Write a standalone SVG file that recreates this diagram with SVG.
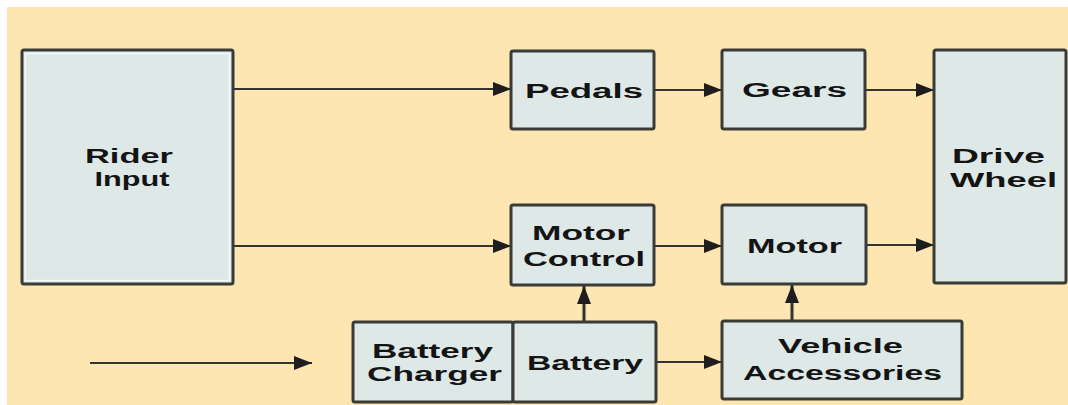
<svg xmlns="http://www.w3.org/2000/svg" width="1068" height="405" viewBox="0 0 1068 405">
<style>
.bg{fill:#fde6b1}
.box{fill:#dde8e7;stroke:#3a3a37;stroke-width:3}
.hl{fill:none;stroke:#f4f8f8;stroke-width:1.5}
.t{font-family:"Liberation Sans",Arial,sans-serif;font-weight:bold;font-size:20px;fill:#141414;text-anchor:middle}
.c{stroke:#333330;stroke-width:2;fill:none}
</style>
<defs>
<marker id="ah" markerUnits="userSpaceOnUse" viewBox="0 0 18 14" refX="18" refY="7" markerWidth="18" markerHeight="14" orient="auto">
<path d="M0,0 L18,7 L0,14 Z" fill="#1e1e1e"/>
</marker>
</defs>
<rect x="0" y="0" width="1068" height="405" fill="#ffffff"/>
<rect class="bg" x="7" y="7" width="1061" height="398"/>
<g id="connectors">
<path class="c" d="M233,89 H511" marker-end="url(#ah)"/>
<path class="c" d="M654,90 H722" marker-end="url(#ah)"/>
<path class="c" d="M865,90 H934" marker-end="url(#ah)"/>
<path class="c" d="M233,246 H511" marker-end="url(#ah)"/>
<path class="c" d="M654,246 H722" marker-end="url(#ah)"/>
<path class="c" d="M866,245 H934" marker-end="url(#ah)"/>
<path class="c" d="M584,322 V286" marker-end="url(#ah)" style="stroke-width:3"/>
<path class="c" d="M792,321 V285" marker-end="url(#ah)" style="stroke-width:3"/>
<path class="c" d="M656,362 H722" marker-end="url(#ah)"/>
<path class="c" d="M90,363 H312" marker-end="url(#ah)"/>
</g>
<g id="rider-input">
<rect class="box" x="22" y="50" width="211" height="234" rx="2"/>
<rect class="hl" x="25.5" y="53.5" width="204" height="227"/>
<text class="t" x="129" y="163" textLength="88" lengthAdjust="spacingAndGlyphs">Rider</text>
<text class="t" x="132" y="186" textLength="75" lengthAdjust="spacingAndGlyphs">Input</text>
</g>
<g id="pedals">
<rect class="box" x="511" y="51" width="143" height="78" rx="2"/>
<text class="t" x="584" y="98" textLength="118" lengthAdjust="spacingAndGlyphs">Pedals</text>
</g>
<g id="gears">
<rect class="box" x="722" y="50" width="143" height="79" rx="2"/>
<text class="t" x="794.5" y="97" textLength="105" lengthAdjust="spacingAndGlyphs">Gears</text>
</g>
<g id="drive-wheel">
<rect class="box" x="934" y="50" width="132" height="233" rx="2"/>
<text class="t" x="998.5" y="163" textLength="93" lengthAdjust="spacingAndGlyphs">Drive</text>
<text class="t" x="1003.5" y="187" textLength="107" lengthAdjust="spacingAndGlyphs">Wheel</text>
</g>
<g id="motor-control">
<rect class="box" x="511" y="205" width="143" height="80" rx="2"/>
<text class="t" x="581" y="240" textLength="98" lengthAdjust="spacingAndGlyphs">Motor</text>
<text class="t" x="584" y="266" textLength="122" lengthAdjust="spacingAndGlyphs">Control</text>
</g>
<g id="motor">
<rect class="box" x="722" y="205" width="144" height="79" rx="2"/>
<text class="t" x="794.5" y="253" textLength="95" lengthAdjust="spacingAndGlyphs">Motor</text>
</g>
<g id="battery-charger">
<rect class="box" x="353" y="322" width="160" height="80" rx="2"/>
<text class="t" x="432.5" y="358" textLength="121" lengthAdjust="spacingAndGlyphs">Battery</text>
<text class="t" x="434.5" y="381" textLength="135" lengthAdjust="spacingAndGlyphs">Charger</text>
</g>
<g id="battery">
<rect class="box" x="513" y="322" width="143" height="80" rx="2"/>
<text class="t" x="585" y="370" textLength="116" lengthAdjust="spacingAndGlyphs">Battery</text>
</g>
<g id="vehicle-accessories">
<rect class="box" x="722" y="321" width="240" height="78" rx="2"/>
<text class="t" x="840.5" y="353" textLength="125" lengthAdjust="spacingAndGlyphs">Vehicle</text>
<text class="t" x="842.5" y="380" textLength="199" lengthAdjust="spacingAndGlyphs">Accessories</text>
</g>
</svg>
